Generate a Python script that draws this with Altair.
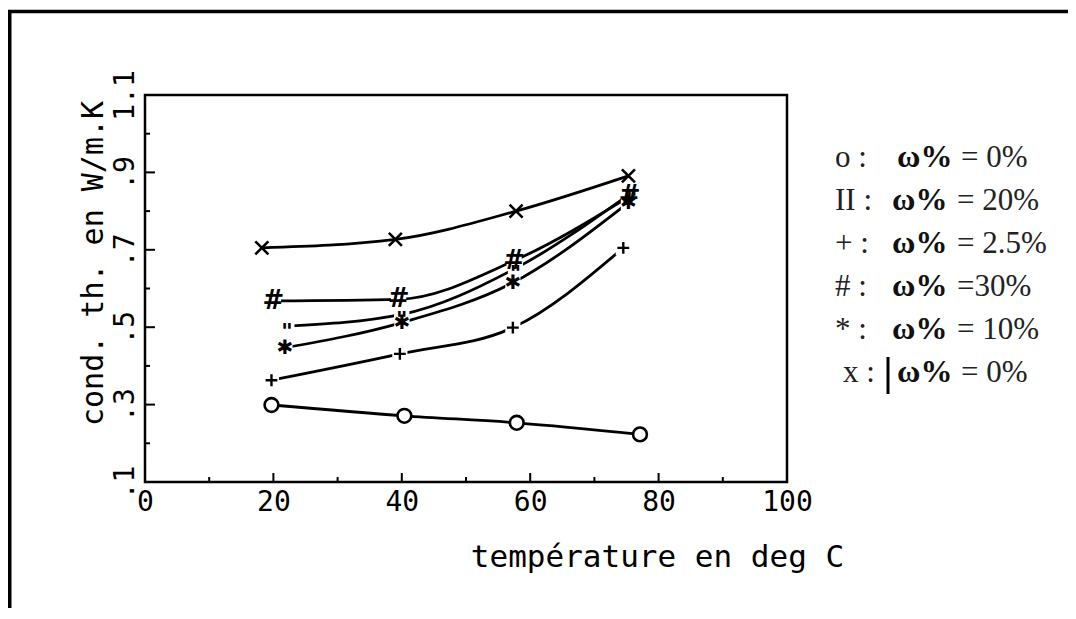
import altair as alt
import pandas as pd

# ---- data ----
temp_o = [19.7, 40.4, 57.9, 77.1]
cond_o = [0.299, 0.271, 0.253, 0.223]
temp_x = [18.2, 39.0, 57.8, 75.3]
cond_x = [0.705, 0.727, 0.800, 0.891]
temp_hash = [20.0, 39.5, 57.5, 75.5]
cond_hash = [0.568, 0.572, 0.672, 0.838]
temp_ii = [22.1, 40.0, 57.7, 75.8]
cond_ii = [0.503, 0.533, 0.652, 0.848]
temp_star = [21.8, 40.0, 57.3, 75.3]
cond_star = [0.447, 0.512, 0.615, 0.822]
temp_plus = [19.7, 39.7, 57.3, 74.5]
cond_plus = [0.363, 0.431, 0.499, 0.705]

x_major = [0, 20, 40, 60, 80, 100]
x_minor = [10, 30, 50, 70, 90]
y_major = [0.1, 0.3, 0.5, 0.7, 0.9, 1.1]
y_minor = [0.2, 0.4, 0.6, 0.8, 1.0]

legend_prefix = ["o :", "II :", "+ :", "# :", "* :", "x :"]
legend_omega = ["ω%", "ω%", "ω%", "ω%", "ω%", "ω%"]
legend_suffix = ["= 0%", "= 20%", "= 2.5%", "=30%", "= 10%", "= 0%"]

x_title = "température en deg C"
y_title = "cond. th. en W/m.K"

# ---- build tables ----
def series(name, t, c):
    return pd.DataFrame({"series": name, "temp": t, "cond": c})

df_o = series("o", temp_o, cond_o)
df_x = series("x", temp_x, cond_x)
df_hash = series("hash", temp_hash, cond_hash)
df_ii = series("ii", temp_ii, cond_ii)
df_star = series("star", temp_star, cond_star)
df_plus = series("plus", temp_plus, cond_plus)
df_all = pd.concat([df_o, df_x, df_hash, df_ii, df_star, df_plus], ignore_index=True)
df_halo = pd.concat([df_hash, df_ii, df_star, df_plus], ignore_index=True)

W, H = 642, 387
MONO = "DejaVu Sans Mono"

X = alt.X(
    "temp:Q",
    scale=alt.Scale(domain=[0, 100], nice=False),
    axis=alt.Axis(
        values=x_major, ticks=False, domain=False, grid=False, labelFlush=False,
        labelFont=MONO, labelFontSize=28, labelPadding=6, labelColor="black",
        title=x_title, titleFont=MONO, titleFontSize=31, titleFontWeight="normal",
        titleColor="black", titleX=512, titleY=84, titleAlign="center",
        titleBaseline="alphabetic",
    ),
)
Y = alt.Y(
    "cond:Q",
    scale=alt.Scale(domain=[0.1, 1.1], nice=False, zero=False),
    axis=alt.Axis(
        values=y_major, ticks=False, domain=False, grid=False, labelFlush=False,
        labelExpr="datum.value < 1 ? replace(format(datum.value, '.1f'), '0.', '.') : format(datum.value, '.1f')",
        labelFont=MONO, labelFontSize=28, labelAngle=270, labelAlign="center",
        labelBaseline="bottom", labelPadding=6, labelColor="black",
        title=y_title, titleFont=MONO, titleFontSize=30, titleFontWeight="normal",
        titleColor="black", titleAngle=270, titleX=-52, titleY=168,
        titleAlign="center", titleBaseline="middle",
    ),
)

lines = alt.Chart(df_all).mark_line(
    color="black", strokeWidth=2.8, interpolate="monotone"
).encode(x=X, y=Y, detail="series:N")

halo = alt.Chart(df_halo).mark_point(
    shape="square", filled=True, fill="white", color="white", opacity=1, size=230
).encode(x=X, y=Y)

m_o = alt.Chart(df_o).mark_point(
    shape="circle", filled=True, fill="white", stroke="black", strokeWidth=2.6,
    opacity=1, size=190
).encode(x=X, y=Y)
m_x = alt.Chart(df_x).mark_point(
    shape="M-1,-1L1,1M1,-1L-1,1", filled=False, color="black", strokeWidth=2.6,
    opacity=1, size=170
).encode(x=X, y=Y)
m_plus = alt.Chart(df_plus).mark_point(
    shape="M-1,0L1,0M0,-1L0,1", filled=False, color="black", strokeWidth=2.4,
    opacity=1, size=140
).encode(x=X, y=Y)
m_hash = alt.Chart(df_hash).mark_text(
    text="#", font="DejaVu Sans", fontWeight="bold", fontSize=26,
    baseline="middle", align="center", color="black"
).encode(x=X, y=Y)
m_ii = alt.Chart(df_ii).mark_text(
    text='"', font="DejaVu Sans", fontWeight="bold", fontSize=22,
    baseline="middle", align="center", color="black", dy=6
).encode(x=X, y=Y)
m_star = alt.Chart(df_star).mark_text(
    text="✱", font="DejaVu Sans", fontWeight="bold", fontSize=20,
    baseline="middle", align="center", color="black"
).encode(x=X, y=Y)

# inward ticks
t_xmaj = alt.Chart(pd.DataFrame({"temp": x_major})).mark_rule(color="black", strokeWidth=2).encode(
    x=X, y=alt.value(H), y2=alt.value(H - 9))
t_xmin = alt.Chart(pd.DataFrame({"temp": x_minor})).mark_rule(color="black", strokeWidth=2).encode(
    x=X, y=alt.value(H), y2=alt.value(H - 5))
t_ymaj = alt.Chart(pd.DataFrame({"cond": y_major})).mark_rule(color="black", strokeWidth=2).encode(
    y=Y, x=alt.value(0), x2=alt.value(10))
t_ymin = alt.Chart(pd.DataFrame({"cond": y_minor})).mark_rule(color="black", strokeWidth=2).encode(
    y=Y, x=alt.value(0), x2=alt.value(5))

# outer frame (top and left edges)
dummy = pd.DataFrame({"d": [0]})
b_left = alt.Chart(dummy).mark_rule(color="black", strokeWidth=4).encode(
    x=alt.value(-135.5), y=alt.value(-85), y2=alt.value(520))
b_top = alt.Chart(dummy).mark_rule(color="black", strokeWidth=3.5).encode(
    y=alt.value(-83.5), x=alt.value(-137.5), x2=alt.value(925))

# legend text block
legend_layers = []
for i, (p, o, s) in enumerate(zip(legend_prefix, legend_omega, legend_suffix)):
    base_y = 72 + 43 * i
    px = 690 if i < 5 else 698
    ox = 747 if i not in (0, 5) else 752
    sx = 812 if i not in (0, 5) else 816
    legend_layers.append(
        alt.Chart(pd.DataFrame({"t": [p]})).mark_text(
            font="Liberation Serif", fontSize=31, align="left", baseline="alphabetic", color="#222"
        ).encode(text="t:N", x=alt.value(px), y=alt.value(base_y))
    )
    legend_layers.append(
        alt.Chart(pd.DataFrame({"t": [o]})).mark_text(
            font="Liberation Serif", fontSize=32, fontWeight="bold", align="left",
            baseline="alphabetic", color="#111"
        ).encode(text="t:N", x=alt.value(ox), y=alt.value(base_y))
    )
    legend_layers.append(
        alt.Chart(pd.DataFrame({"t": [s]})).mark_text(
            font="Liberation Serif", fontSize=31, align="left", baseline="alphabetic", color="#222"
        ).encode(text="t:N", x=alt.value(sx), y=alt.value(base_y))
    )
bar = alt.Chart(dummy).mark_rule(color="black", strokeWidth=3).encode(
    x=alt.value(743), y=alt.value(262), y2=alt.value(299))

chart = alt.layer(
    lines, halo, m_o, m_x, m_plus, m_hash, m_ii, m_star,
    t_xmaj, t_xmin, t_ymaj, t_ymin, b_left, b_top, bar, *legend_layers
).properties(
    width=W, height=H,
    autosize=alt.AutoSizeParams(type="none"),
    padding={"left": 137, "top": 87, "right": 1060 - 137 - W, "bottom": 600 - 87 - H},
    background="white",
).configure_view(stroke="black", strokeWidth=2.5)

chart.save("out.html", embed_options={"renderer": "svg", "actions": False})
